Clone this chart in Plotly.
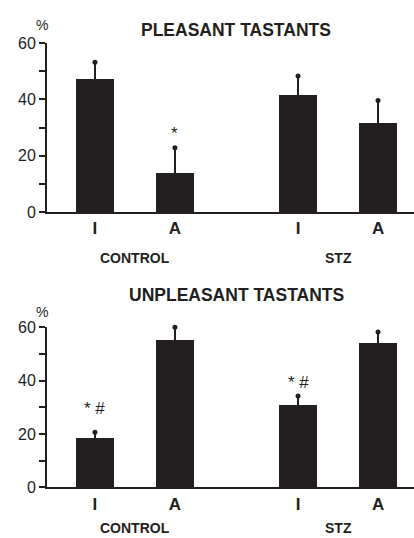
import plotly.graph_objects as go

# ---- data ----
groups = ["CONTROL", "STZ"]
conditions = ["I", "A", "I", "A"]
x_pos = [0, 1, 2.54, 3.54]

pleasant_mean = [47.1, 13.8, 41.6, 31.7]
pleasant_err_top = [53.2, 22.8, 48.3, 39.6]

unpleasant_mean = [18.4, 55.0, 30.9, 54.0]
unpleasant_err_top = [20.6, 60.0, 34.2, 58.2]

pleasant_marks = ["", "*", "", ""]
pleasant_mark_y = [0, 28, 0, 0]
unpleasant_marks = ["* #", "", "* #", ""]
unpleasant_mark_y = [29.5, 0, 39.2, 0]

y_tickvals = [0, 10, 20, 30, 40, 50, 60]
y_ticktext = ["0", "", "20", "", "40", "", "60"]

titles = ["PLEASANT TASTANTS", "UNPLEASANT TASTANTS"]

BAR = "#231f20"
W, H = 414, 538
L, R = 47, 0


def px_x(p):
    return (p - L) / (W - L - R)


def px_y(p):
    return 1 - p / H


fig = go.Figure()

panels = [
    (pleasant_mean, pleasant_err_top, pleasant_marks, pleasant_mark_y, "x", "y"),
    (unpleasant_mean, unpleasant_err_top, unpleasant_marks, unpleasant_mark_y, "x2", "y2"),
]

for mean, etop, marks, mark_y, xa, ya in panels:
    fig.add_trace(go.Bar(
        x=x_pos, y=mean, width=0.475, marker=dict(color=BAR, line=dict(width=0)),
        error_y=dict(type="data", symmetric=False,
                     array=[t - m for t, m in zip(etop, mean)],
                     arrayminus=[0] * len(mean),
                     color=BAR, thickness=2.3, width=0),
        xaxis=xa, yaxis=ya, cliponaxis=False, showlegend=False, hoverinfo="skip"))
    fig.add_trace(go.Scatter(
        x=x_pos, y=etop, mode="markers",
        marker=dict(color=BAR, size=5, symbol="circle"),
        xaxis=xa, yaxis=ya, cliponaxis=False, showlegend=False, hoverinfo="skip"))
    for xv, m, my in zip(x_pos, marks, mark_y):
        if m:
            fig.add_annotation(x=xv, y=my, xref=xa, yref=ya, text=m, showarrow=False,
                               font=dict(family="Liberation Sans, Arial", size=17, color=BAR))

dom_top = [px_y(212), px_y(43)]
dom_bot = [px_y(487.3), px_y(327.3)]

xaxis_common = dict(range=[-0.6, 3.99], tickvals=x_pos, ticktext=conditions, automargin=False,
                    showline=True, linecolor=BAR, linewidth=2, ticks="", showgrid=False,
                    zeroline=False,
                    tickfont=dict(family="Liberation Sans, Arial", size=17, color=BAR, weight="bold"))
yaxis_common = dict(range=[0, 60], tickvals=y_tickvals, ticktext=y_ticktext, automargin=False,
                    showline=True, linecolor=BAR, linewidth=2, ticks="outside", ticklen=6,
                    tickwidth=2, tickcolor=BAR, showgrid=False, zeroline=False,
                    tickfont=dict(family="Liberation Sans, Arial", size=16, color=BAR))

fig.update_layout(
    width=W, height=H,
    margin=dict(l=L, r=R, t=0, b=0),
    plot_bgcolor="white", paper_bgcolor="white",
    bargap=0,
    xaxis=dict(**xaxis_common, anchor="y"),
    yaxis=dict(**yaxis_common, domain=dom_top, anchor="x"),
    xaxis2=dict(**xaxis_common, anchor="y2"),
    yaxis2=dict(**yaxis_common, domain=dom_bot, anchor="x2"),
)

# group labels
for xa, ypix in [("x", 258), ("x2", 528)]:
    for i, g in enumerate(groups):
        cx = (x_pos[2 * i] + x_pos[2 * i + 1]) / 2
        fig.add_annotation(x=cx, xref=xa, y=px_y(ypix), yref="paper", text=g,
                           showarrow=False, yanchor="middle",
                           font=dict(family="Liberation Sans, Arial", size=14,
                                     color=BAR, weight="bold"))

# titles and % labels
for t, (ty, py) in zip(titles, [(30, 25), (295, 312)]):
    fig.add_annotation(x=px_x(236), xref="paper", y=px_y(ty), yref="paper", text=t,
                       showarrow=False, yanchor="middle",
                       font=dict(family="Liberation Sans, Arial", size=17.5, color=BAR, weight="bold"))
    fig.add_annotation(x=px_x(50), xref="paper", xanchor="right", y=px_y(py), yref="paper",
                       text="%", showarrow=False, yanchor="middle",
                       font=dict(family="Liberation Sans, Arial", size=14, color=BAR))

fig.write_html("out.html", config={"displayModeBar": False},
               post_script="document.body.style.margin='0px';")
